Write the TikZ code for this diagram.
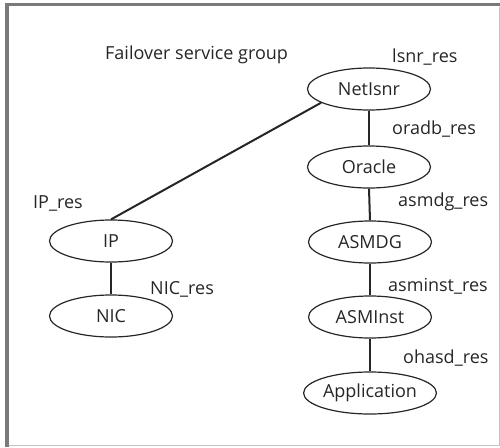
\documentclass[tikz,border=0pt]{standalone}
\usepackage{fontspec}
\setmainfont{Open Sans}
\usetikzlibrary{shapes.geometric}
\definecolor{ink}{HTML}{262626}
\definecolor{framedark}{HTML}{7A7A7A}
\definecolor{framelight}{HTML}{C4C4C4}
\begin{document}
\begin{tikzpicture}[x=1pt,y=-1pt,
  res/.style={ellipse,draw=ink,line width=1.2pt,minimum width=123pt,minimum height=42pt,inner sep=0pt,text=ink,font=\fontsize{18}{20}\selectfont},
  lbl/.style={anchor=base west,inner sep=0pt,text=ink,font=\fontsize{18}{20}\selectfont},
  link/.style={draw=ink,line width=2pt}]
\useasboundingbox (0,0) rectangle (500,447);
% frame
\draw[framedark,line width=3.5pt] (7,447) -- (7,4.7) -- (500,4.7);
\draw[framelight,line width=1.2pt] (8.5,445.8) -- (500,445.8);
\draw[framelight,line width=1pt] (499.4,6.5) -- (499.4,445.8);
% nodes
\node[res] (netlsnr) at (369,89) {NetIsnr};
\node[res] (oracle) at (369,167) {Oracle};
\node[res] (asmdg) at (370,242) {ASMDG};
\node[res] (asminst) at (370,317) {ASMInst};
\node[res] (app) at (370,393) {Application};
\node[res] (ip) at (111,241) {IP};
\node[res] (nic) at (111,316) {NIC};
% labels
\node[lbl] (title) at (105,59) {Failover service group};
\node[lbl] (lsnrres) at (392,62) {lsnr\_res};
\node[lbl] (oradbres) at (392,134) {oradb\_res};
\node[lbl] (asmdgres) at (398,206) {asmdg\_res};
\node[lbl] (asminstres) at (388,291) {asminst\_res};
\node[lbl] (ohasdres) at (403,363) {ohasd\_res};
\node[lbl] (ipres) at (33,208) {IP\_res};
\node[lbl] (nicres) at (150,294) {NIC\_res};
% connectors
\draw[link] (netlsnr.south) -- (oracle.north);
\draw[link] (oracle.south) -- (asmdg.north);
\draw[link] (asmdg.south) -- (asminst.north);
\draw[link] (asminst.south) -- (app.north);
\draw[link] (ip.south) -- (nic.north);
\draw[link] (ip.north) -- (netlsnr.196);
\end{tikzpicture}
\end{document}
